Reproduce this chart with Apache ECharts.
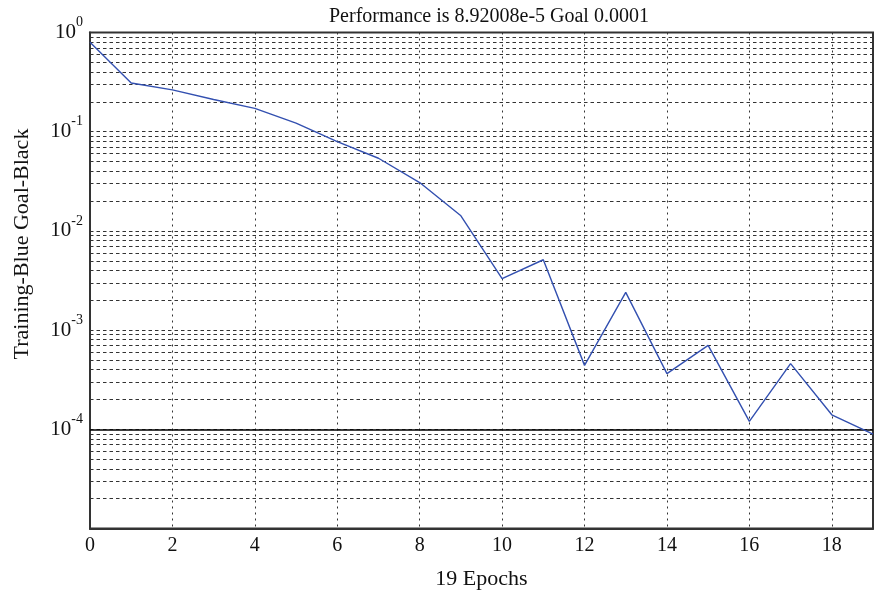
<!DOCTYPE html>
<html>
<head>
<meta charset="utf-8">
<script src="https://cdn.jsdelivr.net/npm/echarts@6/dist/echarts.min.js"></script>
<style>
html,body{margin:0;padding:0;background:#fff;}
#chart{width:874px;height:592px;}
</style>
</head>
<body>
<div id="chart"></div>
<script>
// ---- data ----
var epochs = [0,1,2,3,4,5,6,7,8,9,10,11,12,13,14,15,16,17,18,19];
var performance = [0.797, 0.31, 0.264, 0.211, 0.172, 0.122, 0.0794, 0.054, 0.0307, 0.0142,
                   0.0033, 0.00512, 0.000441, 0.0024, 0.000364, 0.000702, 0.00012, 0.000459, 0.00014, 0.0000892];
var goal = 0.0001;
var decades = [1e-5, 1e-4, 1e-3, 1e-2, 1e-1];
var minorMultipliers = [2,3,4,5,6,7,8,9];
var xTicks = [0,2,4,6,8,10,12,14,16,18];
var titleText = 'Performance is 8.92008e-5 Goal 0.0001';
var xName = '19 Epochs';
var yName = 'Training-Blue Goal-Black';

var FONT = '"Liberation Serif", "Times New Roman", serif';
var minorLines = [];
decades.forEach(function(d){ minorMultipliers.forEach(function(m){ minorLines.push({yAxis: m*d}); }); });

var chart = echarts.init(document.getElementById('chart'), null, {renderer:'canvas'});
chart.setOption({
  animation: false,
  backgroundColor: '#fff',
  title: {
    text: titleText, left: 324, top: 2,
    textStyle: {fontFamily: FONT, fontSize: 20, fontWeight: 'normal', color: '#111'}
  },
  graphic: [{
    type: 'text', x: 22, y: 244, rotation: Math.PI/2,
    style: {text: yName, font: '22px ' + FONT, fill: '#111', textAlign: 'center', textVerticalAlign: 'middle'}
  }],
  grid: {left: 90, right: 1, top: 32.5, bottom: 63.5, outerBoundsMode: 'none', containLabel: false,
    show: true, borderColor: '#333', borderWidth: 2, backgroundColor: 'transparent'},
  xAxis: {
    type: 'value', min: 0, max: 19, interval: 2,
    name: xName, nameLocation: 'middle', nameGap: 40,
    nameTextStyle: {fontFamily: FONT, fontSize: 22, color: '#111'},
    axisLine: {show: true, lineStyle: {color: '#333', width: 2}},
    axisTick: {show: false},
    axisLabel: {fontFamily: FONT, fontSize: 20, color: '#111', margin: 7, showMaxLabel: false,
      formatter: function(v){ return xTicks.indexOf(v) >= 0 ? String(v) : ''; }},
    splitLine: {show: true, lineStyle: {color: '#333', width: 1, type: [2,4]}}
  },
  yAxis: {
    type: 'log', logBase: 10, min: 1e-5, max: 1, splitNumber: 5,
    axisLine: {show: true, lineStyle: {color: '#333', width: 2}},
    axisTick: {show: false},
    axisLabel: {
      margin: 7, color: '#111',
      formatter: function(v){
        var e = Math.round(Math.log10(v));
        if (e === -5) return '';
        return '{b|10}{s|' + e + '}';
      },
      rich: {
        b: {fontFamily: FONT, fontSize: 21, lineHeight: 34, color: '#111'},
        s: {fontFamily: FONT, fontSize: 14, lineHeight: 15, verticalAlign: 'top', color: '#111'}
      }
    },
    splitLine: {show: true, lineStyle: {color: '#333', width: 1, type: [3.5,3]}}
  },
  series: [
    {
      type: 'line', data: [], silent: true, z: 1,
      markLine: {silent: true, precision: 12, symbol: ['none','none'], label: {show: false},
        lineStyle: {color: '#333', width: 1, type: [3.5,3]}, data: minorLines, animation: false}
    },
    {
      type: 'line', data: [], silent: true, z: 3,
      markLine: {silent: true, precision: 12, symbol: ['none','none'], label: {show: false},
        lineStyle: {color: '#000', width: 1.5, type: 'solid'}, data: [{yAxis: goal}], animation: false}
    },
    {
      type: 'line', z: 5,
      data: epochs.map(function(x, i){ return [x, performance[i]]; }),
      showSymbol: false, symbol: 'none',
      lineStyle: {color: '#3350b0', width: 1.4}
    }
  ]
});
</script>
</body>
</html>
